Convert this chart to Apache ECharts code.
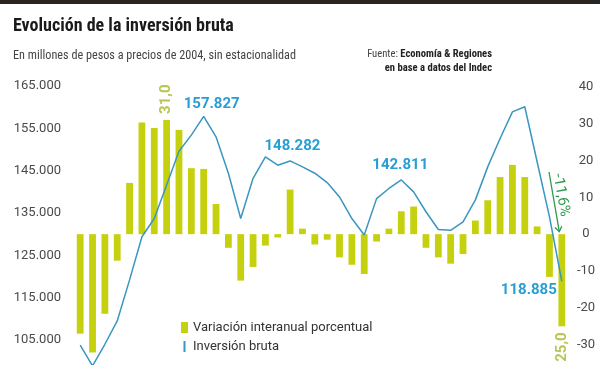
<!DOCTYPE html>
<html><head><meta charset="utf-8">
<script src="https://cdn.jsdelivr.net/npm/echarts@6/dist/echarts.min.js"></script>
<style>html,body{margin:0;padding:0;background:#fff}#c{width:600px;height:365px}</style>
</head><body><div id="c"></div>
<script>
const categories = [
  'I-2009','II-2009','III-2009','IV-2009','I-2010','II-2010','III-2010','IV-2010',
  'I-2011','II-2011','III-2011','IV-2011','I-2012','II-2012','III-2012','IV-2012',
  'I-2013','II-2013','III-2013','IV-2013','I-2014','II-2014','III-2014','IV-2014',
  'I-2015','II-2015','III-2015','IV-2015','I-2016','II-2016','III-2016','IV-2016',
  'I-2017','II-2017','III-2017','IV-2017','I-2018','II-2018','III-2018','IV-2018'
];
const variacion = [
  -27.0, -32.1, -21.6, -7.2, 13.9, 30.3, 28.8, 31.0,
  28.3, 17.9, 17.7, 8.2, -3.7, -12.6, -8.9, -3.1,
  -0.9, 12.1, 1.5, -2.8, -1.5, -6.3, -8.3, -10.8,
  -2.0, 1.5, 6.2, 7.5, -3.7, -6.3, -8.0, -5.4,
  3.7, 9.2, 15.5, 18.8, 15.5, 2.1, -11.6, -25.0
];
const inversion = [
  103800, 98900, 104000, 109500, 119200, 129400, 133700, 141600,
  149600, 153400, 157827, 153000, 144400, 133700, 143200, 148282,
  146300, 147300, 145900, 144400, 142200, 138800, 133700, 129800,
  138400, 140800, 142811, 140000, 135300, 131100, 130900, 132900,
  138100, 145900, 152600, 158900, 160100, 147100, 134100, 118885
];
const leftTicks = [105000, 115000, 125000, 135000, 145000, 155000, 165000];
const rightTicks = [-30, -20, -10, 0, 10, 20, 30, 40];
const lineLabelIdx = [10, 15, 26, 39];
const barLabelIdx = [7, 39];
const annotIdx = 38;

const fmtThousands = v => String(Math.round(v)).replace(/\B(?=(\d{3})+(?!\d))/g, '.');
const fmtDec = v => v.toFixed(1).replace('.', ',');

const BAR = '#c5d10e', LINE = '#3a96be', LBLUE = '#279fd4', OLIVE = '#a8b52a', GREEN = '#2e9a4e';
const NARROW = '"Liberation Sans Narrow", "Roboto Condensed", Roboto, sans-serif';

const lineLabelStyle = {
  10: {position: 'top', distance: 5, offset: [8, 0]},
  15: {position: 'top', distance: 5, offset: [27, 2]},
  26: {position: 'top', distance: 5, offset: [-1, -2]},
  39: {position: 'left', distance: 5, offset: [0, 9]}
};
const lineData = inversion.map((v, i) => {
  if (lineLabelIdx.indexOf(i) < 0) return v;
  return {value: v, label: Object.assign({
    show: true, formatter: p => fmtThousands(p.value), color: LBLUE,
    fontFamily: 'Roboto', fontWeight: 'bold', fontSize: 15
  }, lineLabelStyle[i])};
});
const barLabelData = barLabelIdx.map(i => ({
  value: [i, variacion[i]],
  label: {
    show: true, rotate: 90, verticalAlign: 'middle', distance: 6,
    position: variacion[i] >= 0 ? 'top' : 'bottom',
    align: variacion[i] >= 0 ? 'left' : 'right',
    formatter: p => fmtDec(Math.abs(p.value[1])),
    color: OLIVE, fontFamily: 'Roboto', fontWeight: 'bold', fontSize: 15
  }
}));

const chart = echarts.init(document.getElementById('c'), null, {renderer: 'canvas'});
chart.setOption({
  animation: false,
  backgroundColor: '#fff',
  grid: {left: 74, right: 32, top: 86, bottom: 0, containLabel: false},
  xAxis: {type: 'category', data: categories, show: false, boundaryGap: true},
  yAxis: [
    {type: 'value', min: 99100, max: 165000, position: 'left',
     axisLine: {show: false}, axisTick: {show: false}, splitLine: {show: false},
     axisLabel: {customValues: leftTicks, formatter: v => fmtThousands(v), margin: 13,
                 color: '#4a4a4a', fontFamily: 'Roboto', fontSize: 13}},
    {type: 'value', min: -35.5, max: 40.2, position: 'right',
     axisLine: {show: false}, axisTick: {show: false}, splitLine: {show: false},
     axisLabel: {customValues: rightTicks, margin: 18, align: 'center',
                 color: '#4a4a4a', fontFamily: 'Roboto', fontSize: 13}}
  ],
  legend: {
    orient: 'vertical', left: 176, top: 316, itemWidth: 7, itemHeight: 11, itemGap: 6,
    textStyle: {fontFamily: 'Roboto', fontSize: 13, color: '#333'},
    data: [
      {name: 'Variación interanual porcentual', icon: 'rect'},
      {name: 'Inversión bruta', icon: 'path://M0,0h2v11h-2z'}
    ]
  },
  series: [
    {name: 'Variación interanual porcentual', type: 'bar', yAxisIndex: 1, data: variacion,
     barWidth: 6.8, itemStyle: {color: BAR}, z: 2},
    {name: 'Inversión bruta', type: 'line', yAxisIndex: 0, data: lineData,
     symbol: 'circle', symbolSize: 0, showSymbol: true,
     lineStyle: {color: LINE, width: 1.5}, itemStyle: {color: LINE}, z: 3},
    {name: 'etiquetas', type: 'scatter', yAxisIndex: 1, data: barLabelData,
     symbolSize: 0, silent: true, z: 4}
  ],
  graphic: [
    {type: 'rect', shape: {x: 0, y: 0, width: 600, height: 4}, style: {fill: '#2a2420'}},
    {type: 'text', x: 13, y: 26, style: {text: 'Evolución de la inversión bruta',
      font: 'bold 18px ' + NARROW, fill: '#1a1a1a', verticalAlign: 'middle'}},
    {type: 'text', x: 13, y: 56, style: {text: 'En millones de pesos a precios de 2004, sin estacionalidad',
      font: '12.2px ' + NARROW, fill: '#444', verticalAlign: 'middle'}},
    {type: 'text', x: 492, y: 54, style: {text: '{a|Fuente: }{b|Economía & Regiones}',
      align: 'right', verticalAlign: 'middle',
      rich: {a: {font: '10.6px ' + NARROW, fill: '#444'}, b: {font: 'bold 10.6px ' + NARROW, fill: '#222'}}}},
    {type: 'text', x: 492, y: 68, style: {text: 'en base a datos del Indec',
      font: 'bold 10.6px ' + NARROW, fill: '#222', align: 'right', verticalAlign: 'middle'}},
    {type: 'text', x: 561, y: 195, rotation: -80 * Math.PI / 180,
     style: {text: fmtDec(variacion[annotIdx]) + '%', font: '15px Roboto', fill: GREEN,
             align: 'center', verticalAlign: 'middle'}},
    {type: 'polyline', shape: {points: [[549, 172], [559.3, 231.7]]},
     style: {stroke: GREEN, lineWidth: 1.3, fill: null}},
    {type: 'polyline', shape: {points: [[555, 227.5], [559.3, 231.7], [561.8, 226.3]]},
     style: {stroke: GREEN, lineWidth: 1.3, fill: null}}
  ]
});
</script></body></html>
